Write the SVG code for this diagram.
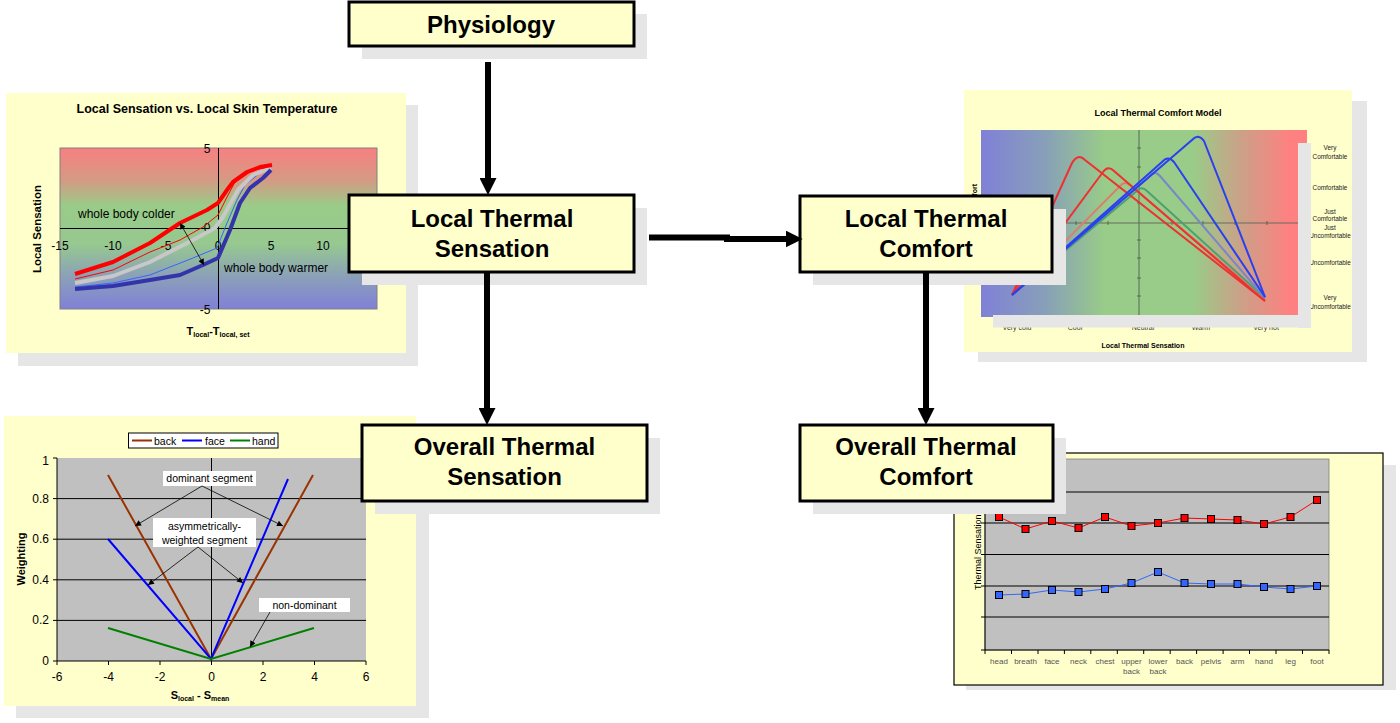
<svg xmlns="http://www.w3.org/2000/svg" width="1400" height="723" viewBox="0 0 1400 723">
<defs>
<style>
text{font-family:"Liberation Sans",Arial,Helvetica,sans-serif;fill:#000}
.box{fill:#FFFFCC;stroke:#000;stroke-width:3}
.shadow{fill:#E6E6E6}
.panel{fill:#FFFFCC}
.bt{font-size:24px;font-weight:bold;text-anchor:middle}
.conn{stroke:#000;stroke-width:6;fill:none;marker-end:url(#big)}
.t12{font-size:12px}
.ax{stroke:#000;stroke-width:1;fill:none}
.grid{stroke:#000;stroke-width:1}
.ann{stroke:#000;stroke-width:0.8;fill:none;marker-end:url(#sm)}
.note{fill:#fff}
.n10{font-size:10.5px;text-anchor:middle}
.rl{font-size:6.4px;text-anchor:middle;fill:#222}
.bl{font-size:7px;text-anchor:middle;fill:#333}
.cat{font-size:8px;text-anchor:middle;fill:#555}
.rm{fill:#FF0000;stroke:#000;stroke-width:1}
.bm{fill:#3366FF;stroke:#000;stroke-width:1}
.tick{stroke:#406040;stroke-width:0.8}
</style>
<linearGradient id="gV" x1="0" y1="0" x2="0" y2="1">
<stop offset="0" stop-color="#F88080"/>
<stop offset="0.2" stop-color="#D49A84"/>
<stop offset="0.36" stop-color="#99CC88"/>
<stop offset="0.6" stop-color="#96C890"/>
<stop offset="0.8" stop-color="#8BA0B8"/>
<stop offset="1" stop-color="#8080D8"/>
</linearGradient>
<linearGradient id="gH" x1="0" y1="0" x2="1" y2="0">
<stop offset="0" stop-color="#8080D8"/>
<stop offset="0.2" stop-color="#88A0B8"/>
<stop offset="0.38" stop-color="#99CC88"/>
<stop offset="0.65" stop-color="#99CC88"/>
<stop offset="0.8" stop-color="#CCA088"/>
<stop offset="0.95" stop-color="#FF8080"/>
<stop offset="1" stop-color="#FF8080"/>
</linearGradient>
<marker id="big" viewBox="0 0 10 10" refX="2" refY="5" markerWidth="17" markerHeight="17" markerUnits="userSpaceOnUse" orient="auto">
<path d="M0,0 L10,5 L0,10 z" fill="#000"/>
</marker>
<marker id="sm" viewBox="0 0 10 10" refX="10" refY="5" markerWidth="8" markerHeight="6" markerUnits="userSpaceOnUse" orient="auto-start-reverse">
<path d="M0,0 L10,5 L0,10 z" fill="#000"/>
</marker>
</defs>
<rect width="1400" height="723" fill="#FFFFFF"/>

<!-- Top-left chart -->
<g id="chart-local-sensation">
<rect class="shadow" x="18" y="105" width="400" height="261"/>
<rect class="panel" x="6" y="93" width="400" height="260"/>
<text x="207" y="113" font-size="12.5" font-weight="bold" text-anchor="middle">Local Sensation vs. Local Skin Temperature</text>
<rect x="60" y="148" width="317" height="161" fill="url(#gV)" stroke="#808080" stroke-width="1"/>
<line class="ax" x1="60" y1="228.5" x2="377" y2="228.5"/>
<line class="ax" x1="218.5" y1="148" x2="218.5" y2="309"/>
<g class="t12" text-anchor="middle">
<text x="207" y="153">5</text>
<text x="207" y="232">0</text>
<text x="205" y="314">-5</text>
<text x="60" y="250">-15</text>
<text x="113" y="250">-10</text>
<text x="166" y="250">-5</text>
<text x="218" y="250">0</text>
<text x="271" y="250">5</text>
<text x="323" y="250">10</text>
</g>
<polyline points="75,287 113,283 150,275 193,258 217,248 227,223 237,200 245,185 260,173 271,168" fill="none" stroke="#3366FF" stroke-width="1" stroke-linejoin="round"/>
<polyline points="75,279 113,270 150,252 180,240 203,227 218,215 227,197 235,182 253,170 271,167" fill="none" stroke="#FF0000" stroke-width="1" stroke-linejoin="round"/>
<polyline points="75,283 113,276 150,262 193,240 215,228 223,217 238,190 253,175 271,168" fill="none" stroke="#C8C8C8" stroke-width="4" stroke-linejoin="round"/>
<polyline points="75,274 113,262 150,243 180,223 207,210 218,203 227,190 233,182 247,172 260,167 272,165" fill="none" stroke="#FF0000" stroke-width="4" stroke-linejoin="round"/>
<polyline points="75,289 113,286 150,280 180,275 203,265 218,258 230,230 240,203 250,188 263,178 271,170" fill="none" stroke="#3333AA" stroke-width="4" stroke-linejoin="round"/>
<line x1="180" y1="223" x2="204" y2="265" stroke="#000" stroke-width="0.8" marker-start="url(#sm)" marker-end="url(#sm)"/>
<text x="78" y="218" font-size="12">whole body colder</text>
<text x="224" y="272" font-size="12">whole body warmer</text>
<text transform="translate(41,229) rotate(-90)" font-size="11.5" font-weight="bold" text-anchor="middle">Local Sensation</text>
<text x="218" y="335" text-anchor="middle" font-size="11" font-weight="bold">T<tspan font-size="7" dy="2">local</tspan><tspan dy="-2">-T</tspan><tspan font-size="7" dy="2">local, set</tspan></text>
</g>

<!-- Bottom-left chart -->
<g id="chart-weighting">
<rect class="shadow" x="16" y="428" width="413" height="290"/>
<rect class="panel" x="4" y="416" width="412" height="290"/>
<rect x="57" y="458" width="309" height="203" fill="#C0C0C0"/>
<g class="grid">
<line x1="57" y1="498.6" x2="366" y2="498.6"/>
<line x1="57" y1="539.2" x2="366" y2="539.2"/>
<line x1="57" y1="579.8" x2="366" y2="579.8"/>
<line x1="57" y1="620.4" x2="366" y2="620.4"/>
<line x1="211.5" y1="458" x2="211.5" y2="661"/>
</g>
<path class="ax" d="M57,458 V661 H366 M53,458 H57 M53,498.6 H57 M53,539.2 H57 M53,579.8 H57 M53,620.4 H57 M53,661 H57 M57,661 V665 M108.5,661 V665 M160,661 V665 M211.5,661 V665 M263,661 V665 M314.5,661 V665 M366,661 V665"/>
<g class="t12" text-anchor="end">
<text x="49" y="465">1</text>
<text x="49" y="503">0.8</text>
<text x="49" y="543">0.6</text>
<text x="49" y="584">0.4</text>
<text x="49" y="624">0.2</text>
<text x="49" y="665">0</text>
</g>
<g class="t12" text-anchor="middle">
<text x="57" y="681">-6</text>
<text x="108.5" y="681">-4</text>
<text x="160" y="681">-2</text>
<text x="211.5" y="681">0</text>
<text x="263" y="681">2</text>
<text x="314.5" y="681">4</text>
<text x="366" y="681">6</text>
</g>
<polyline points="108,475 211,659 313,475" fill="none" stroke="#993300" stroke-width="2"/>
<polyline points="108,539 211,659 288,479" fill="none" stroke="#0000FF" stroke-width="2"/>
<polyline points="108,628 211,659 314,628" fill="none" stroke="#008000" stroke-width="2"/>
<rect x="128.5" y="433" width="149.5" height="15" fill="#fff" stroke="#000" stroke-width="1"/>
<line x1="132" y1="440.5" x2="152" y2="440.5" stroke="#993300" stroke-width="2"/>
<line x1="182" y1="440.5" x2="202" y2="440.5" stroke="#0000FF" stroke-width="2"/>
<line x1="230" y1="440.5" x2="250" y2="440.5" stroke="#008000" stroke-width="2"/>
<text x="154" y="444.5" font-size="10.5">back</text>
<text x="205" y="444.5" font-size="10.5">face</text>
<text x="252" y="444.5" font-size="10.5">hand</text>
<rect class="note" x="163" y="471" width="93" height="15"/>
<text class="n10" x="209.5" y="482">dominant segment</text>
<rect class="note" x="153" y="518" width="103" height="29"/>
<text class="n10" x="204.5" y="530">asymmetrically-</text>
<text class="n10" x="204.5" y="544">weighted segment</text>
<rect class="note" x="259" y="598" width="91" height="14"/>
<text class="n10" x="304.5" y="609">non-dominant</text>
<line class="ann" x1="202" y1="486" x2="135" y2="526"/>
<line class="ann" x1="202" y1="486" x2="283" y2="526"/>
<line class="ann" x1="198" y1="547" x2="148" y2="585"/>
<line class="ann" x1="198" y1="547" x2="243" y2="583"/>
<line class="ann" x1="270" y1="612" x2="250" y2="647"/>
<text transform="translate(25,559) rotate(-90)" font-size="11" font-weight="bold" text-anchor="middle">Weighting</text>
<text x="200" y="699" text-anchor="middle" font-size="11" font-weight="bold">S<tspan font-size="7" dy="2">local</tspan><tspan dy="-2"> - S</tspan><tspan font-size="7" dy="2">mean</tspan></text>
</g>

<!-- Top-right chart -->
<g id="chart-comfort-model">
<rect class="shadow" x="978" y="101" width="389" height="261"/>
<rect class="panel" x="964" y="90" width="388" height="262"/>
<text x="1158" y="116" font-size="9" font-weight="bold" text-anchor="middle">Local Thermal Comfort Model</text>
<rect x="981" y="130" width="326" height="187" fill="url(#gH)"/>
<line x1="1139" y1="130" x2="1139" y2="317" stroke="#5E7A5E" stroke-width="1.2"/>
<line x1="990" y1="223" x2="1307" y2="223" stroke="#6A6A60" stroke-width="1.2"/>
<path class="tick" d="M1137,148 H1141 M1137,167 H1141 M1137,185 H1141 M1137,203 H1141 M1137,240 H1141 M1137,258 H1141 M1137,278 H1141 M1137,296 H1141 M1076,221 V225 M1108,221 V225 M1172,221 V225 M1203,221 V225 M1235,221 V225 M1267,221 V225"/>
<g fill="none" stroke-width="2" stroke-linejoin="round">
<path d="M1012,295 L1120,186 Q1125,180 1131,186 L1265,299" stroke="#D88070"/>
<path d="M1012,295 L1138,190 Q1142,186 1147,191 L1265,298" stroke="#4FA070"/>
<path d="M1012,295 L1150,176 Q1155,170 1160,176 L1265,298" stroke="#7788C8"/>
<path d="M1012,295 L1103,172 Q1108,165 1114,171 L1265,301" stroke="#EE3030"/>
<path d="M1012,295 L1072,163 Q1078,153 1085,160 L1265,301" stroke="#EE3030"/>
<path d="M1012,295 L1162,162 Q1168,155 1174,162 L1265,297" stroke="#2A40F0"/>
<path d="M1012,295 L1192,140 Q1198,133 1204,141 L1265,297" stroke="#2A40F0"/>
</g>
<text class="rl" x="1330" y="150">Very</text>
<text class="rl" x="1330" y="159">Comfortable</text>
<text class="rl" x="1330" y="190">Comfortable</text>
<text class="rl" x="1330" y="214">Just</text>
<text class="rl" x="1330" y="221">Comfortable</text>
<text class="rl" x="1330" y="230">Just</text>
<text class="rl" x="1330" y="238">Uncomfortable</text>
<text class="rl" x="1330" y="265">Uncomfortable</text>
<text class="rl" x="1330" y="300">Very</text>
<text class="rl" x="1330" y="309">Uncomfortable</text>
<text class="bl" x="1017" y="330">Very cold</text>
<text class="bl" x="1075" y="330">Cool</text>
<text class="bl" x="1143" y="330">Neutral</text>
<text class="bl" x="1201" y="330">Warm</text>
<text class="bl" x="1266" y="330">Very hot</text>
<rect class="shadow" x="1298" y="143" width="13" height="185"/>
<rect class="shadow" x="993" y="315" width="318" height="12.5"/>
<text x="1143" y="348" font-size="7" font-weight="bold" text-anchor="middle">Local Thermal Sensation</text>
<text transform="translate(977,184) rotate(-90)" font-size="7" font-weight="bold" text-anchor="end">Local Thermal Comfort</text>
</g>

<!-- Bottom-right chart -->
<g id="chart-overall">
<rect class="shadow" x="966" y="465" width="430" height="225"/>
<rect x="954" y="453" width="429" height="232" fill="#FFFFCC" stroke="#000" stroke-width="1.2"/>
<rect x="985" y="459" width="344" height="191" fill="#C0C0C0" stroke="#808080" stroke-width="0.8"/>
<g class="grid">
<line x1="985" y1="492" x2="1329" y2="492"/>
<line x1="985" y1="523" x2="1329" y2="523"/>
<line x1="985" y1="554.5" x2="1329" y2="554.5"/>
<line x1="985" y1="586" x2="1329" y2="586"/>
<line x1="985" y1="617" x2="1329" y2="617"/>
</g>
<path class="ax" d="M985,459 V650 H1329 M981,459 H985 M981,492 H985 M981,523 H985 M981,554.5 H985 M981,586 H985 M981,617 H985 M981,650 H985 M985,650 V654 M1011.5,650 V654 M1038,650 V654 M1064.4,650 V654 M1090.8,650 V654 M1117.3,650 V654 M1143.7,650 V654 M1170.2,650 V654 M1196.6,650 V654 M1223.1,650 V654 M1249.5,650 V654 M1276,650 V654 M1302.5,650 V654 M1329,650 V654"/>
<polyline points="999,517 1025.5,529 1052,521 1078.5,528 1105,517 1131.5,526 1158,523 1184.5,518 1211,519 1237.5,520 1264,524 1290.5,517 1317,500" fill="none" stroke="#FF0000" stroke-width="1"/>
<polyline points="999,595 1025.5,594 1052,590 1078.5,592 1105,589 1131.5,583 1158,572 1184.5,583 1211,584 1237.5,584 1264,587 1290.5,589 1317,586" fill="none" stroke="#3366FF" stroke-width="1"/>
<g class="rm">
<rect x="995.5" y="513.5" width="7" height="7"/>
<rect x="1022" y="525.5" width="7" height="7"/>
<rect x="1048.5" y="517.5" width="7" height="7"/>
<rect x="1075" y="524.5" width="7" height="7"/>
<rect x="1101.5" y="513.5" width="7" height="7"/>
<rect x="1128" y="522.5" width="7" height="7"/>
<rect x="1154.5" y="519.5" width="7" height="7"/>
<rect x="1181" y="514.5" width="7" height="7"/>
<rect x="1207.5" y="515.5" width="7" height="7"/>
<rect x="1234" y="516.5" width="7" height="7"/>
<rect x="1260.5" y="520.5" width="7" height="7"/>
<rect x="1287" y="513.5" width="7" height="7"/>
<rect x="1313.5" y="496.5" width="7" height="7"/>
</g>
<g class="bm">
<rect x="995.5" y="591.5" width="7" height="7"/>
<rect x="1022" y="590.5" width="7" height="7"/>
<rect x="1048.5" y="586.5" width="7" height="7"/>
<rect x="1075" y="588.5" width="7" height="7"/>
<rect x="1101.5" y="585.5" width="7" height="7"/>
<rect x="1128" y="579.5" width="7" height="7"/>
<rect x="1154.5" y="568.5" width="7" height="7"/>
<rect x="1181" y="579.5" width="7" height="7"/>
<rect x="1207.5" y="580.5" width="7" height="7"/>
<rect x="1234" y="580.5" width="7" height="7"/>
<rect x="1260.5" y="583.5" width="7" height="7"/>
<rect x="1287" y="585.5" width="7" height="7"/>
<rect x="1313.5" y="582.5" width="7" height="7"/>
</g>
<text class="cat" x="999" y="664">head</text>
<text class="cat" x="1025.5" y="664">breath</text>
<text class="cat" x="1052" y="664">face</text>
<text class="cat" x="1078.5" y="664">neck</text>
<text class="cat" x="1105" y="664">chest</text>
<text class="cat" x="1131.5" y="664">upper</text>
<text class="cat" x="1131.5" y="674">back</text>
<text class="cat" x="1158" y="664">lower</text>
<text class="cat" x="1158" y="674">back</text>
<text class="cat" x="1184.5" y="664">back</text>
<text class="cat" x="1211" y="664">pelvis</text>
<text class="cat" x="1237.5" y="664">arm</text>
<text class="cat" x="1264" y="664">hand</text>
<text class="cat" x="1290.5" y="664">leg</text>
<text class="cat" x="1317" y="664">foot</text>
<text transform="translate(981,590) rotate(-90)" font-size="9" fill="#222">Thermal Sensation</text>
</g>

<!-- Nodes -->
<g id="node-physiology">
<rect class="shadow" x="362" y="14" width="285" height="45"/>
<rect class="box" x="349" y="2" width="285" height="44"/>
<text class="bt" x="491" y="33">Physiology</text>
</g>
<g id="node-local-sensation">
<rect class="shadow" x="362" y="208" width="285" height="77"/>
<rect class="box" x="349" y="195" width="285" height="77"/>
<text class="bt" x="492" y="227">Local Thermal</text>
<text class="bt" x="492" y="257">Sensation</text>
</g>
<g id="node-local-comfort">
<rect class="shadow" x="813" y="209" width="253" height="76"/>
<rect class="box" x="800" y="196" width="252" height="76"/>
<text class="bt" x="926" y="227">Local Thermal</text>
<text class="bt" x="926" y="257">Comfort</text>
</g>
<g id="node-overall-sensation">
<rect class="shadow" x="375" y="438" width="285" height="76"/>
<rect class="box" x="362" y="425" width="285" height="76"/>
<text class="bt" x="504.5" y="455">Overall Thermal</text>
<text class="bt" x="504.5" y="485">Sensation</text>
</g>
<g id="node-overall-comfort">
<rect class="shadow" x="813" y="438" width="253" height="76"/>
<rect class="box" x="800" y="425" width="253" height="76"/>
<text class="bt" x="926" y="455">Overall Thermal</text>
<text class="bt" x="926" y="485">Comfort</text>
</g>

<!-- Connectors -->
<g id="connectors">
<path class="conn" d="M488,62 V181.4"/>
<path class="conn" d="M649,237.5 H730 M724,239 H789"/>
<path class="conn" d="M487,272 V411.4"/>
<path class="conn" d="M926,272 V411.4"/>
</g>
</svg>
